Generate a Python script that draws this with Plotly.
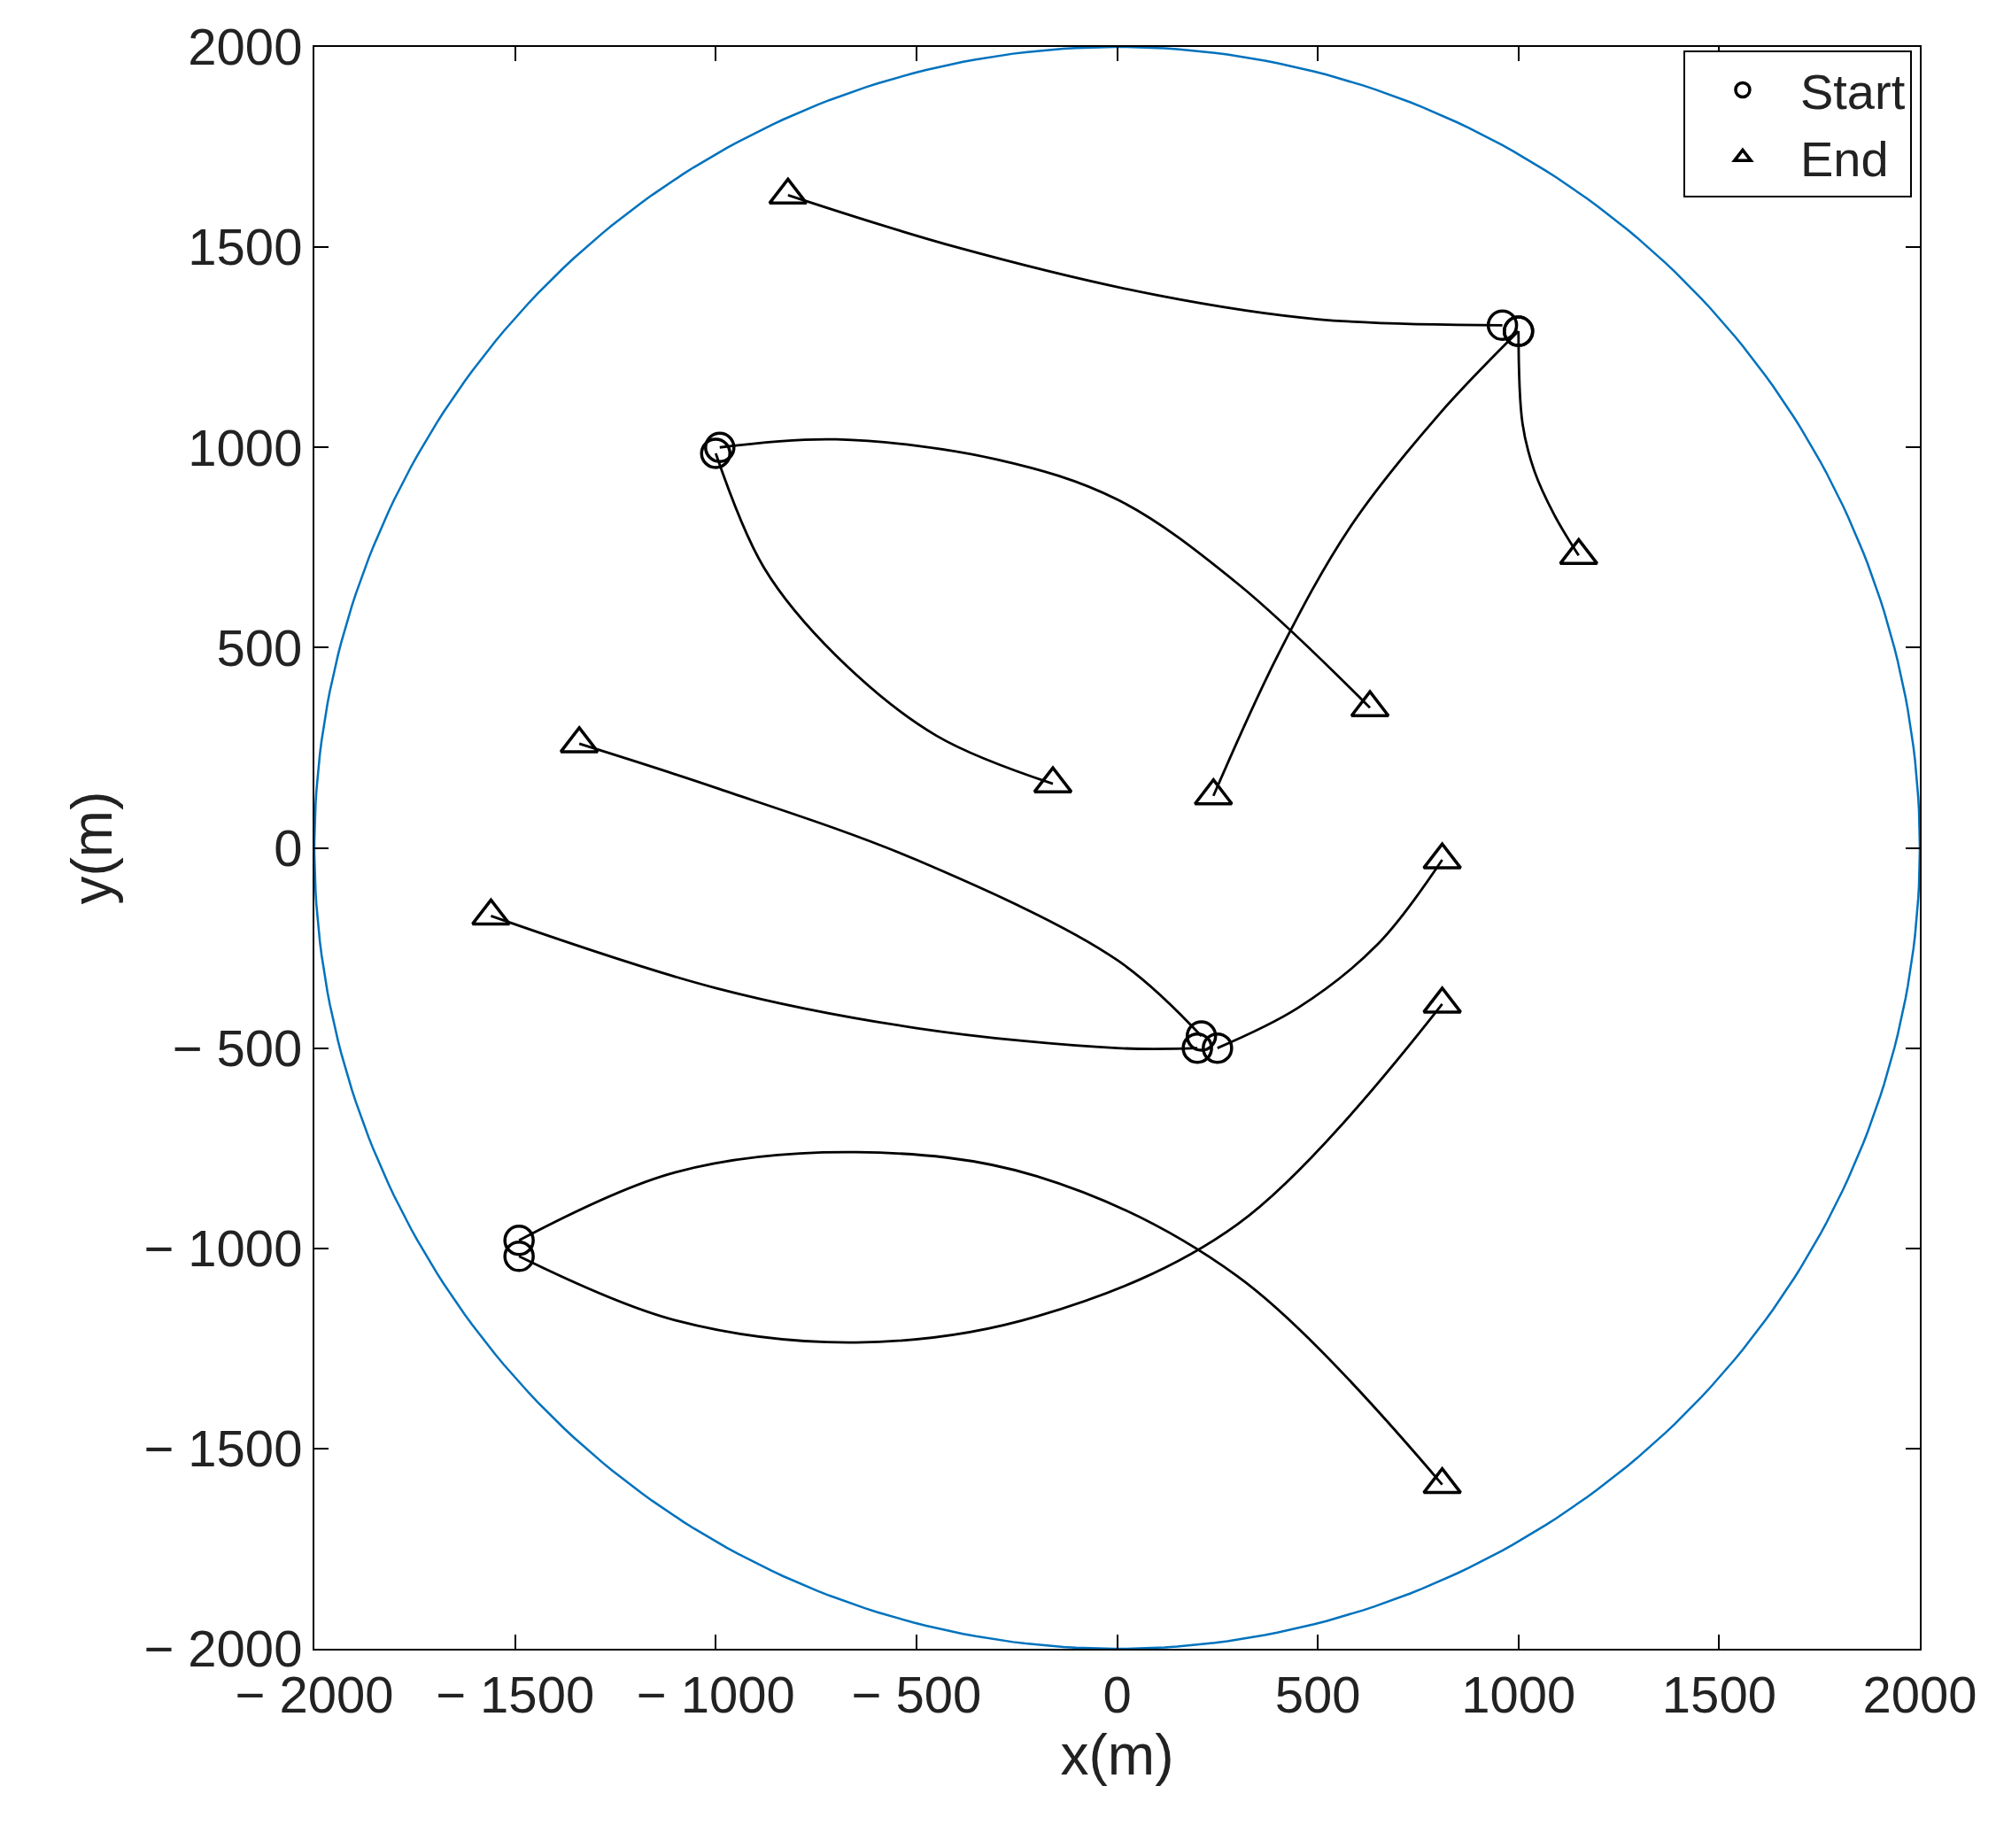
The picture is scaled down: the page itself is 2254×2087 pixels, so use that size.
import numpy as np
import plotly.graph_objects as go

# trajectories: waypoints (start first, end last)
paths_x = [
    [960, 500, 100, -400, -820],
    [1000, 800, 580, 400, 240],
    [1000, 1010, 1040, 1090, 1150],
    [-990, -700, -300, 0, 300, 630],
    [-1000, -880, -700, -450, -160],
    [210, 0, -500, -1000, -1340],
    [200, 0, -500, -1000, -1560],
    [250, 450, 650, 810],
    [-1490, -1100, -650, -200, 300, 810],
    [-1490, -1100, -650, -200, 300, 810],
]
paths_y = [
    [1305, 1320, 1380, 1500, 1630],
    [1290, 1080, 800, 480, 130],
    [1290, 1060, 940, 830, 730],
    [1000, 1020, 970, 870, 660, 350],
    [985, 700, 480, 280, 160],
    [-470, -280, -30, 150, 260],
    [-500, -500, -450, -350, -170],
    [-500, -400, -240, -30],
    [-980, -810, -760, -820, -1070, -1590],
    [-1020, -1180, -1235, -1170, -940, -390],
]
ticks = [-2000, -1500, -1000, -500, 0, 500, 1000, 1500, 2000]
tick_text = [("− " + str(-t)) if t < 0 else str(t) for t in ticks]
radius = 2000

fig = go.Figure()
th = np.linspace(0, 2 * np.pi, 400)
fig.add_trace(go.Scatter(x=radius * np.cos(th), y=radius * np.sin(th), mode="lines",
                         line=dict(color="#0072BD", width=2.5), showlegend=False))
for px, py in zip(paths_x, paths_y):
    fig.add_trace(go.Scatter(x=px, y=py, mode="lines", line=dict(color="black", width=2.8, shape="spline", smoothing=1.0),
                             showlegend=False))
fig.add_trace(go.Scatter(x=[p[0] for p in paths_x], y=[p[0] for p in paths_y], mode="markers", name="Start",
                         marker=dict(symbol="circle-open", size=32, color="black", line=dict(width=3.5))))
fig.add_trace(go.Scatter(x=[p[-1] for p in paths_x], y=[p[-1] for p in paths_y], mode="markers", name="End",
                         marker=dict(symbol="triangle-up-open", size=36, color="black", line=dict(width=3.5))))

ax = dict(range=[-2000, 2000], tickvals=ticks, ticktext=tick_text, showgrid=False, zeroline=False,
          showline=True, mirror="ticks", linecolor="black", linewidth=2, ticks="inside", ticklen=16,
          tickwidth=2, tickcolor="black", tickfont=dict(size=58, color="#222"))
fig.update_layout(
    width=2254, height=2087, plot_bgcolor="white", paper_bgcolor="white",
    font=dict(family="Liberation Sans, Arial", color="#222"),
    margin=dict(l=347, r=94, t=38, b=233),
    xaxis=dict(**ax, title=dict(text="x(m)", font=dict(size=64))),
    yaxis=dict(**ax, title=dict(text="y(m)", font=dict(size=64))),
    legend=dict(x=0.995, y=0.998, xanchor="right", yanchor="top", bgcolor="white",
                bordercolor="black", borderwidth=2, font=dict(size=56), itemwidth=120,
                itemsizing="trace"),
)
fig.write_html("out.html")
